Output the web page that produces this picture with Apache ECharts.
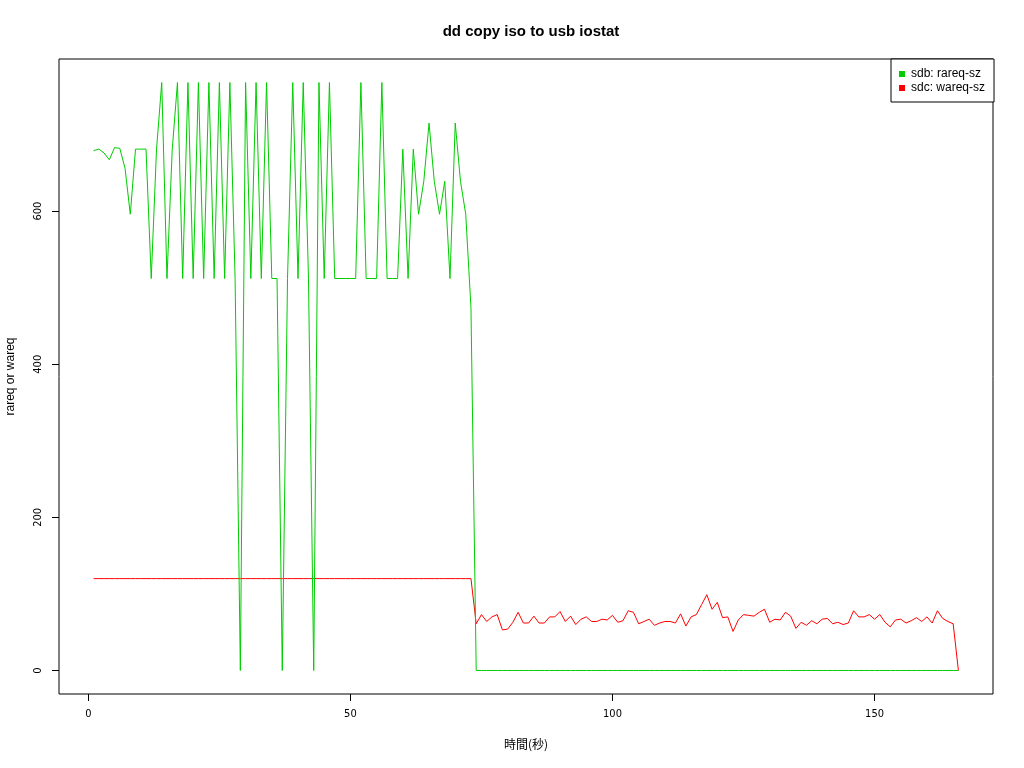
<!DOCTYPE html>
<html>
<head>
<meta charset="utf-8">
<script src="https://cdn.jsdelivr.net/npm/echarts@6/dist/echarts.min.js"></script>
<style>
html,body{margin:0;padding:0;background:#fff;}
#chart{width:1024px;height:768px;}
</style>
</head>
<body>
<div id="chart"></div>
<script>
// sdb: rareq-sz, seconds 1..166
const sdbRareq = [
  679, 681, 676, 667, 683, 682, 656, 596, 681, 681,
  681, 512, 680, 768, 512, 680, 768, 512, 768, 512,
  768, 512, 768, 512, 768, 512, 768, 512, 0, 768,
  512, 768, 512, 768, 512, 512, 0, 512, 768, 512,
  768, 512, 0, 768, 512, 768, 512, 512, 512, 512,
  512, 768, 512, 512, 512, 768, 512, 512, 512, 681,
  512, 681, 596, 639, 715, 639, 596, 639, 512, 715,
  639, 596, 474, 0, 0, 0, 0, 0, 0, 0,
  0, 0, 0, 0, 0, 0, 0, 0, 0, 0,
  0, 0, 0, 0, 0, 0, 0, 0, 0, 0,
  0, 0, 0, 0, 0, 0, 0, 0, 0, 0,
  0, 0, 0, 0, 0, 0, 0, 0, 0, 0,
  0, 0, 0, 0, 0, 0, 0, 0, 0, 0,
  0, 0, 0, 0, 0, 0, 0, 0, 0, 0,
  0, 0, 0, 0, 0, 0, 0, 0, 0, 0,
  0, 0, 0, 0, 0, 0, 0, 0, 0, 0,
  0, 0, 0, 0, 0, 0
];
// sdc: wareq-sz, seconds 1..166
const sdcWareq = [
  120, 120, 120, 120, 120, 120, 120, 120, 120, 120,
  120, 120, 120, 120, 120, 120, 120, 120, 120, 120,
  120, 120, 120, 120, 120, 120, 120, 120, 120, 120,
  120, 120, 120, 120, 120, 120, 120, 120, 120, 120,
  120, 120, 120, 120, 120, 120, 120, 120, 120, 120,
  120, 120, 120, 120, 120, 120, 120, 120, 120, 120,
  120, 120, 120, 120, 120, 120, 120, 120, 120, 120,
  120, 120, 120, 61, 73, 64, 70, 73, 53, 54,
  63, 76, 62, 62, 71, 62, 62, 70, 70, 77,
  64, 71, 60, 67, 70, 64, 64, 67, 66, 72,
  63, 65, 78, 76, 61, 64, 67, 59, 62, 64,
  64, 62, 74, 58, 70, 73, 86, 99, 80, 89,
  69, 70, 51, 66, 73, 72, 71, 76, 80, 63,
  67, 66, 76, 71, 55, 63, 59, 65, 61, 67,
  68, 61, 63, 60, 62, 78, 70, 70, 73, 67,
  73, 63, 57, 66, 67, 62, 65, 69, 64, 70,
  62, 78, 68, 64, 61, 0
];
const xTicks = [0, 50, 100, 150];
const yTicks = [0, 200, 400, 600];
const seriesNames = ['sdb: rareq-sz', 'sdc: wareq-sz'];
const seriesColors = ['#00CD00', '#FF0000'];

const toPairs = arr => arr.map((v, i) => [i + 1, v]);

const tickFont = "'DejaVu Sans Condensed', 'Liberation Sans Narrow', 'DejaVu Sans', sans-serif";
const chart = echarts.init(document.getElementById('chart'), null, {renderer: 'canvas'});
chart.setOption({
  animation: false,
  backgroundColor: '#ffffff',
  title: {
    text: 'dd copy iso to usb iostat',
    left: 526, top: 19, textAlign: 'center',
    textStyle: {fontFamily: 'Liberation Sans, Arial, sans-serif', fontSize: 15, fontWeight: 'bold', color: '#000'}
  },
  legend: {
    data: seriesNames,
    orient: 'vertical',
    left: 891, top: 59,
    icon: 'rect',
    itemWidth: 6, itemHeight: 6,
    itemGap: 2,
    padding: [9, 9, 8, 8],
    borderColor: '#000', borderWidth: 1, borderRadius: 0,
    backgroundColor: '#fff',
    textStyle: {fontFamily: 'Liberation Sans, Arial, sans-serif', fontSize: 12, color: '#000', padding: [0, 0, 0, 1]}
  },
  grid: {
    left: 59, right: 31, top: 59, bottom: 74,
    show: true, borderColor: '#000', borderWidth: 1, backgroundColor: 'transparent',
    containLabel: false,
    outerBoundsMode: 'none'
  },
  xAxis: {
    type: 'value',
    min: -5.6, max: 172.6,
    name: '時間(秒)',
    nameLocation: 'middle', nameGap: 44,
    nameTextStyle: {fontFamily: "'Noto Sans CJK JP', sans-serif", fontSize: 12, color: '#000'},
    axisLine: {show: false, onZero: false},
    axisTick: {show: true, customValues: xTicks, length: 7, inside: false, lineStyle: {color: '#000'}},
    axisLabel: {show: true, customValues: xTicks, margin: 15, fontFamily: tickFont, fontSize: 11, color: '#000'},
    splitLine: {show: false}
  },
  yAxis: {
    type: 'value',
    min: -30.72, max: 798.72,
    name: 'rareq or wareq',
    nameLocation: 'middle', nameGap: 42, nameRotate: 90,
    nameTextStyle: {fontFamily: 'Liberation Sans, Arial, sans-serif', fontSize: 12, color: '#000'},
    axisLine: {show: false, onZero: false},
    axisTick: {show: true, customValues: yTicks, length: 7, inside: false, lineStyle: {color: '#000'}},
    axisLabel: {show: true, customValues: yTicks, rotate: 90, margin: 15, fontFamily: tickFont, fontSize: 11, color: '#000'},
    splitLine: {show: false}
  },
  series: [
    {
      name: seriesNames[1], type: 'line', data: toPairs(sdcWareq),
      showSymbol: false, symbol: 'none', color: seriesColors[1],
      lineStyle: {width: 1, color: seriesColors[1]}, z: 2
    },
    {
      name: seriesNames[0], type: 'line', data: toPairs(sdbRareq),
      showSymbol: false, symbol: 'none', color: seriesColors[0],
      lineStyle: {width: 1, color: seriesColors[0]}, z: 3
    }
  ]
});
</script>
</body>
</html>
